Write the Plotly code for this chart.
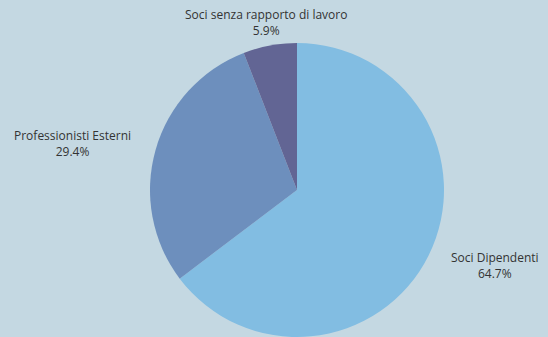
import math
import plotly.graph_objects as go

labels = ["Soci Dipendenti", "Professionisti Esterni", "Soci senza rapporto di lavoro"]
values = [64.7, 29.4, 5.9]
colors = ["#82bde2", "#6d8fbd", "#626594"]

W, H = 548, 337
CX, CY, R = 297, 190, 147
LABEL_R = 170

fig = go.Figure(go.Pie(
    labels=labels,
    values=values,
    sort=False,
    direction="clockwise",
    rotation=0,
    marker=dict(colors=colors, line=dict(width=0)),
    textinfo="none",
    showlegend=False,
    domain=dict(x=[(CX - R) / W, (CX + R) / W], y=[(H - CY - R) / H, (H - CY + R) / H]),
    hoverinfo="label+percent",
))

total = sum(values)
cum = 0
annotations = []
for lab, v in zip(labels, values):
    mid = (cum + v / 2) / total * 2 * math.pi
    cum += v
    dx, dy = math.sin(mid), -math.cos(mid)
    px, py = CX + LABEL_R * dx, CY + LABEL_R * dy
    if dx > 0.3:
        xa = "left"
    elif dx < -0.3:
        xa = "right"
    else:
        xa = "center"
    annotations.append(dict(
        x=px / W, y=1 - py / H, xref="paper", yref="paper",
        text=f"{lab}<br>{v / total * 100:.1f}%",
        showarrow=False, xanchor=xa, yanchor="middle", align="center",
        font=dict(family="Open Sans", size=12, color="#333333"),
    ))

fig.update_layout(
    width=W, height=H,
    margin=dict(l=0, r=0, t=0, b=0),
    paper_bgcolor="#c4d8e2",
    plot_bgcolor="#c4d8e2",
    annotations=annotations,
)

fig.write_html("out.html")
